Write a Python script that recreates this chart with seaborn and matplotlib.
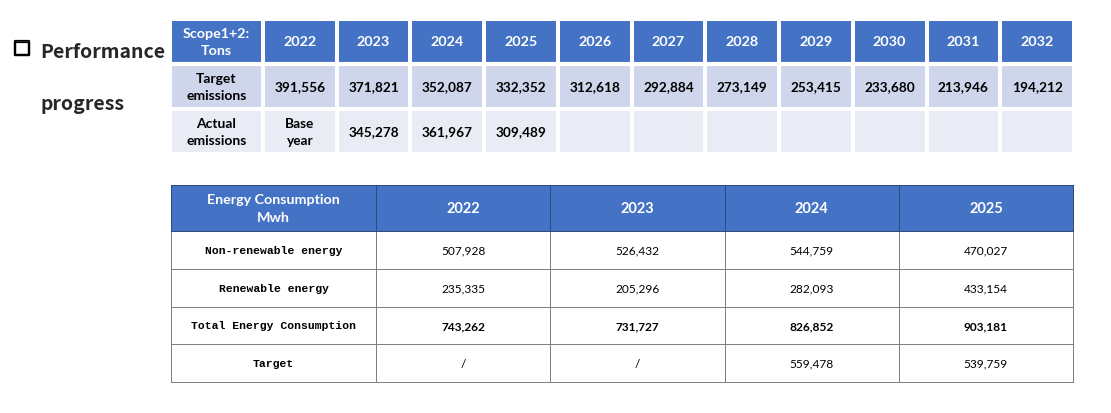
import numpy as np
import matplotlib
matplotlib.use("Agg")
import matplotlib.pyplot as plt
import matplotlib.patheffects as pe
import seaborn as sns
from matplotlib.colors import ListedColormap

# top table: scope 1+2 emissions, tons
scope_header = "Scope1+2:\nTons"
scope_years = ["2022", "2023", "2024", "2025", "2026", "2027",
               "2028", "2029", "2030", "2031", "2032"]
scope_rows = ["Target\nemissions", "Actual\nemissions"]
target_emissions = [391556, 371821, 352087, 332352, 312618, 292884,
                    273149, 253415, 233680, 213946, 194212]
actual_emissions = [None, 345278, 361967, 309489, None, None,
                    None, None, None, None, None]
base_year_label = "Base\nyear"

# bottom table: energy consumption, MWh
energy_header = "Energy Consumption\nMwh"
energy_years = ["2022", "2023", "2024", "2025"]
energy_rows = ["Non-renewable energy", "Renewable energy",
               "Total Energy Consumption", "Target"]
non_renewable = [507928, 526432, 544759, 470027]
renewable = [235335, 205296, 282093, 433154]
total_energy = [743262, 731727, 826852, 903181]
energy_target = [None, None, 559478, 539759]

title_lines = ["Performance", "progress"]

BLUE = "#4472C4"
BAND1 = "#CFD5EA"
BAND2 = "#E9EBF5"
NAVY = "#2F4B7C"
GRID = "#808080"

sns.set_style("white")
plt.rcParams["font.family"] = ["Lato", "DejaVu Sans"]

W, H = 1111, 414
fig = plt.figure(figsize=(W / 100, H / 100), dpi=100)


def box(x, y, w, h):
    return fig.add_axes([x / W, 1 - (y + h) / H, w / W, h / H])


def fmt(v, empty=""):
    return empty if v is None else f"{v:,}"


def block(ax, shade, labels, colors, line, lw, **kw):
    sns.heatmap(np.array(shade), ax=ax, cmap=ListedColormap(colors),
                vmin=-0.5, vmax=len(colors) - 0.5, cbar=False,
                linewidths=lw, linecolor=line,
                annot=np.array(labels, dtype=object), fmt="", annot_kws=kw,
                xticklabels=False, yticklabels=False)
    ax.collections[0].set_clip_on(False)
    return ax


# ---- top table ----
n = len(scope_years)
left_lab = [[scope_header]] + [[r] for r in scope_rows]
left_shade = [[0], [1], [2]]
ax = block(box(170, 20, 93, 135), left_shade, left_lab, [BLUE, BAND1, BAND2],
           "white", 1.5, fontsize=10, fontweight="bold", color="black",
           linespacing=1.45)
ax.texts[0].set_color("white")
ax.texts[0].set_fontsize(10.3)
ax.axhline(1, color="white", lw=3)

actual_txt = [fmt(v) for v in actual_emissions]
actual_txt[0] = base_year_label
vals = [scope_years, [fmt(v) for v in target_emissions], actual_txt]
shade = [[0] * n, [1] * n, [2] * n]
ax = block(box(263, 20, 811, 135), shade, vals, [BLUE, BAND1, BAND2],
           "white", 1.5, fontsize=9.8, fontweight="bold", color="black",
           linespacing=1.45)
for t in ax.texts[:n]:
    t.set_color("white")
    t.set_fontsize(10.4)
ax.axhline(1, color="white", lw=3)

# ---- bottom table ----
m = len(energy_years)
ax = block(box(171, 232, 205, 151), [[0]] * len(energy_rows),
           [[r] for r in energy_rows], ["white"], GRID, 0.5,
           fontsize=8.2, fontweight="bold", color="black",
           family=["Liberation Mono", "DejaVu Sans Mono"])

body = [[fmt(v) for v in non_renewable], [fmt(v) for v in renewable],
        [fmt(v) for v in total_energy], [fmt(v, "/") for v in energy_target]]
ax = block(box(376, 232, 697, 151), [[0] * m] * len(body), body, ["white"],
           GRID, 0.5, fontsize=8.6, color="black")
for t in ax.texts[2 * m:3 * m]:
    t.set_fontweight("bold")

block(box(171, 186, 205, 46), [[0]], [[energy_header]], [BLUE], NAVY, 0.6,
      fontsize=10.3, fontweight="bold", color="white", linespacing=1.55)
block(box(376, 186, 697, 46), [[0] * m], [energy_years], [BLUE], NAVY, 0.6,
      fontsize=10.5, fontweight="bold", color="white")

# ---- title ----
cjk = ["Noto Sans CJK SC", "DejaVu Sans"]
fig.text(13 / W, 1 - 51 / H, "\u25A1", fontsize=13, va="center", ha="left",
         family=cjk,
         path_effects=[pe.withStroke(linewidth=1.6, foreground="black")])
fig.text(40 / W, 1 - 52 / H, title_lines[0], fontsize=14, va="center",
         ha="left", fontweight="bold", family=cjk)
fig.text(40 / W, 1 - 104 / H, title_lines[1], fontsize=14, va="center",
         ha="left", fontweight="bold", family=cjk)

fig.savefig("out.png", dpi=100)
